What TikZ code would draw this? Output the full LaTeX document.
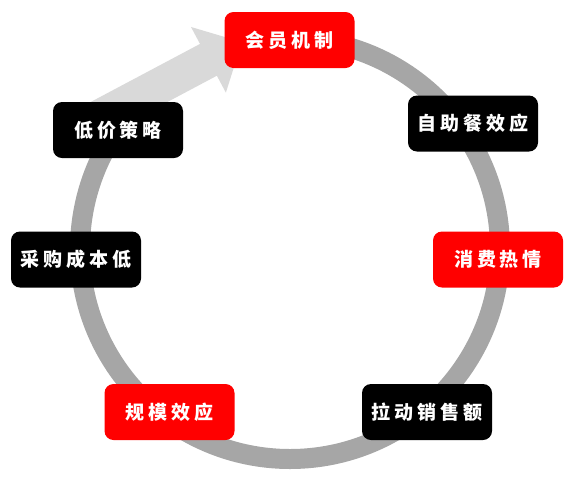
\documentclass[tikz,border=0pt]{standalone}
\usepackage{fontspec}
\newfontfamily\cjkfont[LetterSpace=20]{Noto Sans CJK SC}
\usetikzlibrary{arrows.meta}

\definecolor{ringgray}{HTML}{A6A6A6}
\definecolor{arrowgray}{HTML}{D9D9D9}
\definecolor{boxred}{HTML}{FF0000}

\begin{document}
\begin{tikzpicture}[x=1pt, y=-1pt,
    stepbox/.style={rounded corners=9pt, minimum width=130pt, minimum height=56pt,
        inner sep=0pt, text=white, font=\cjkfont\bfseries\fontsize{19}{19}\selectfont},
    redbox/.style={stepbox, fill=boxred},
    blackbox/.style={stepbox, fill=black}]
    \useasboundingbox (0,0) rectangle (580,480);

    % 大箭头 (低价策略 -> 会员机制)
    \coordinate (arrS) at (97,119);
    \coordinate (arrE) at (242,42);
    \draw[arrowgray, line width=36pt, -{Triangle[width=72pt, length=38pt]}] (arrS) -- (arrE);

    % 圆环
    \draw[ringgray, line width=20pt] (290,249) ++(270:210) arc[start angle=270, end angle=575, radius=210];

    % 各环节
    \node[redbox]   (huiyuan) at (289.5,40)  {会员机制};
    \node[blackbox] (zizhu)   at (473,123.5) {自助餐效应};
    \node[redbox]   (xiaofei) at (498,259.5) {消费热情};
    \node[blackbox] (ladong)  at (427,412)   {拉动销售额};
    \node[redbox]   (guimo)   at (169.5,412) {规模效应};
    \node[blackbox] (caigou)  at (76,259.5)  {采购成本低};
    \node[blackbox] (dijia)   at (118,130)   {低价策略};

\end{tikzpicture}
\end{document}
